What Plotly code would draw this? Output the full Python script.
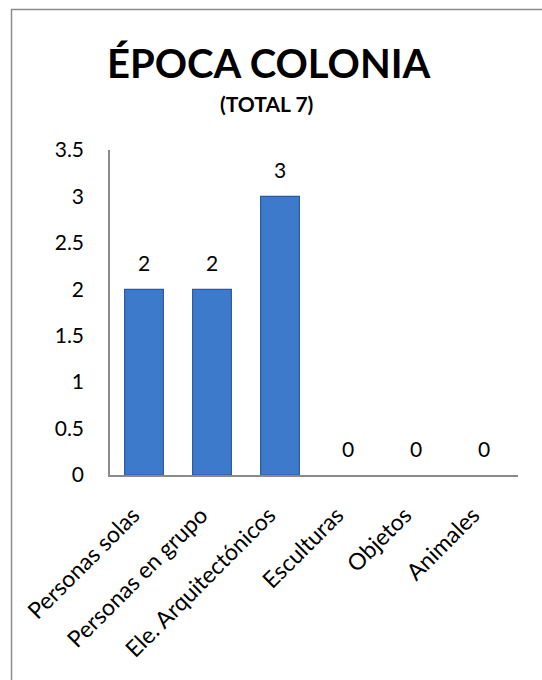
import plotly.graph_objects as go

categories = ["Personas solas", "Personas en grupo", "Ele. Arquitectónicos",
              "Esculturas", "Objetos", "Animales"]
values = [2, 2, 3, 0, 0, 0]
title_text = "ÉPOCA COLONIA"
subtitle_text = "(TOTAL 7)"
y_ticks = [0, 0.5, 1, 1.5, 2, 2.5, 3, 3.5]
y_tick_labels = ["0", "0.5", "1", "1.5", "2", "2.5", "3", "3.5"]

FONT = "Lato, Calibri, Carlito, sans-serif"
W, H = 542, 680
ML, MR, MT, MB = 110, 24, 150, 205
PW = W - ML - MR
PH = H - MT - MB


def px_x(px):
    return (px - ML) / PW


def px_y(py):
    return (H - MB - py) / PH


fig = go.Figure()
fig.add_trace(go.Bar(
    x=categories, y=values,
    marker=dict(color="#3d7acb",
                line=dict(color="#2b5a9c",
                          width=[1.2 if v > 0 else 0 for v in values])),
    width=0.57,
    hoverinfo="x+y",
))

annotations = []
for c, v in zip(categories, values):
    annotations.append(dict(x=c, y=v, xref="x", yref="y", text=str(v),
                            showarrow=False, yshift=27,
                            font=dict(family=FONT, size=21, color="#000000")))
annotations.append(dict(x=px_x(269), y=px_y(63), xref="paper", yref="paper",
                        text="<b>" + title_text + "</b>", showarrow=False,
                        xanchor="center", yanchor="middle",
                        font=dict(family=FONT, size=40, color="#000000")))
annotations.append(dict(x=px_x(266), y=px_y(104), xref="paper", yref="paper",
                        text="<b>" + subtitle_text + "</b>", showarrow=False,
                        xanchor="center", yanchor="middle",
                        font=dict(family=FONT, size=21, color="#000000")))

fig.update_layout(
    width=W, height=H,
    margin=dict(l=ML, r=MR, t=MT, b=MB),
    paper_bgcolor="white", plot_bgcolor="white",
    showlegend=False,
    font=dict(family=FONT, size=21, color="#000000"),
    annotations=annotations,
    shapes=[dict(type="rect", xref="paper", yref="paper",
                 x0=px_x(11.5), x1=px_x(700), y0=px_y(900), y1=px_y(9.5),
                 line=dict(color="#8c8c8c", width=1.5), fillcolor="rgba(0,0,0,0)",
                 layer="below")],
    xaxis=dict(showline=True, linecolor="#8a8a8a", linewidth=1.5,
               showgrid=False, ticks="", tickangle=-45,
               tickfont=dict(family=FONT, size=23, color="#000000"),
               ticklabelstandoff=16, ticklabelshift=-11),
    yaxis=dict(range=[0, 3.5], tickvals=y_ticks, ticktext=y_tick_labels,
               showline=True, linecolor="#8a8a8a", linewidth=1.5,
               showgrid=False, ticks="", zeroline=False,
               tickfont=dict(family=FONT, size=21, color="#000000"),
               ticklabelstandoff=20),
)

fig.write_html("out.html")
